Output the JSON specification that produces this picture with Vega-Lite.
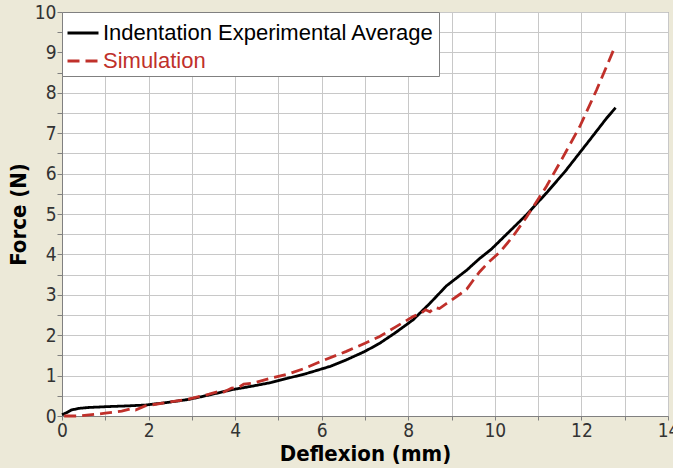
{
  "$schema": "https://vega.github.io/schema/vega-lite/v6.json",
  "width": 606,
  "height": 404,
  "autosize": {"type": "none"},
  "padding": {"left": 62, "top": 12, "right": 5, "bottom": 52},
  "background": "#ECE9D8",
  "config": {
    "view": {"fill": "white", "stroke": "#808080", "strokeWidth": 1},
    "font": "Liberation Sans"
  },
  "data": {
    "values": [
      {"series": "Indentation Experimental Average", "deflexion": 0.0, "force": 0.03},
      {"series": "Indentation Experimental Average", "deflexion": 0.1, "force": 0.08},
      {"series": "Indentation Experimental Average", "deflexion": 0.22, "force": 0.15},
      {"series": "Indentation Experimental Average", "deflexion": 0.4, "force": 0.19},
      {"series": "Indentation Experimental Average", "deflexion": 0.61, "force": 0.21},
      {"series": "Indentation Experimental Average", "deflexion": 1.0, "force": 0.23},
      {"series": "Indentation Experimental Average", "deflexion": 1.5, "force": 0.25},
      {"series": "Indentation Experimental Average", "deflexion": 1.92, "force": 0.27},
      {"series": "Indentation Experimental Average", "deflexion": 2.4, "force": 0.33},
      {"series": "Indentation Experimental Average", "deflexion": 2.92, "force": 0.41},
      {"series": "Indentation Experimental Average", "deflexion": 3.4, "force": 0.52},
      {"series": "Indentation Experimental Average", "deflexion": 3.92, "force": 0.65},
      {"series": "Indentation Experimental Average", "deflexion": 4.4, "force": 0.74},
      {"series": "Indentation Experimental Average", "deflexion": 4.84, "force": 0.83},
      {"series": "Indentation Experimental Average", "deflexion": 5.2, "force": 0.93},
      {"series": "Indentation Experimental Average", "deflexion": 5.61, "force": 1.04},
      {"series": "Indentation Experimental Average", "deflexion": 5.8, "force": 1.1},
      {"series": "Indentation Experimental Average", "deflexion": 6.2, "force": 1.23},
      {"series": "Indentation Experimental Average", "deflexion": 6.57, "force": 1.39},
      {"series": "Indentation Experimental Average", "deflexion": 7.0, "force": 1.6},
      {"series": "Indentation Experimental Average", "deflexion": 7.34, "force": 1.8},
      {"series": "Indentation Experimental Average", "deflexion": 7.7, "force": 2.06},
      {"series": "Indentation Experimental Average", "deflexion": 8.11, "force": 2.38},
      {"series": "Indentation Experimental Average", "deflexion": 8.5, "force": 2.79},
      {"series": "Indentation Experimental Average", "deflexion": 8.88, "force": 3.22},
      {"series": "Indentation Experimental Average", "deflexion": 9.35, "force": 3.61},
      {"series": "Indentation Experimental Average", "deflexion": 9.65, "force": 3.9},
      {"series": "Indentation Experimental Average", "deflexion": 9.92, "force": 4.13},
      {"series": "Indentation Experimental Average", "deflexion": 10.3, "force": 4.53},
      {"series": "Indentation Experimental Average", "deflexion": 10.73, "force": 4.98},
      {"series": "Indentation Experimental Average", "deflexion": 11.2, "force": 5.53},
      {"series": "Indentation Experimental Average", "deflexion": 11.62, "force": 6.05},
      {"series": "Indentation Experimental Average", "deflexion": 12.19, "force": 6.83},
      {"series": "Indentation Experimental Average", "deflexion": 12.58, "force": 7.37},
      {"series": "Indentation Experimental Average", "deflexion": 12.79, "force": 7.63},
      {"series": "Simulation", "deflexion": 0.05, "force": 0.0},
      {"series": "Simulation", "deflexion": 0.4, "force": 0.0},
      {"series": "Simulation", "deflexion": 0.76, "force": 0.04},
      {"series": "Simulation", "deflexion": 1.0, "force": 0.07},
      {"series": "Simulation", "deflexion": 1.38, "force": 0.12},
      {"series": "Simulation", "deflexion": 1.6, "force": 0.18},
      {"series": "Simulation", "deflexion": 1.7, "force": 0.15},
      {"series": "Simulation", "deflexion": 1.92, "force": 0.25},
      {"series": "Simulation", "deflexion": 2.4, "force": 0.33},
      {"series": "Simulation", "deflexion": 2.92, "force": 0.42},
      {"series": "Simulation", "deflexion": 3.4, "force": 0.54},
      {"series": "Simulation", "deflexion": 3.6, "force": 0.6},
      {"series": "Simulation", "deflexion": 3.7, "force": 0.57},
      {"series": "Simulation", "deflexion": 3.92, "force": 0.69},
      {"series": "Simulation", "deflexion": 4.1, "force": 0.72},
      {"series": "Simulation", "deflexion": 4.2, "force": 0.79},
      {"series": "Simulation", "deflexion": 4.4, "force": 0.81},
      {"series": "Simulation", "deflexion": 4.84, "force": 0.94},
      {"series": "Simulation", "deflexion": 5.2, "force": 1.03},
      {"series": "Simulation", "deflexion": 5.61, "force": 1.18},
      {"series": "Simulation", "deflexion": 6.0, "force": 1.36},
      {"series": "Simulation", "deflexion": 6.57, "force": 1.6},
      {"series": "Simulation", "deflexion": 7.0, "force": 1.8},
      {"series": "Simulation", "deflexion": 7.34, "force": 1.97},
      {"series": "Simulation", "deflexion": 7.7, "force": 2.2},
      {"series": "Simulation", "deflexion": 8.11, "force": 2.46},
      {"series": "Simulation", "deflexion": 8.3, "force": 2.55},
      {"series": "Simulation", "deflexion": 8.4, "force": 2.63},
      {"series": "Simulation", "deflexion": 8.5, "force": 2.58},
      {"series": "Simulation", "deflexion": 8.62, "force": 2.69},
      {"series": "Simulation", "deflexion": 8.72, "force": 2.66},
      {"series": "Simulation", "deflexion": 8.88, "force": 2.78},
      {"series": "Simulation", "deflexion": 9.0, "force": 2.87},
      {"series": "Simulation", "deflexion": 9.2, "force": 3.02},
      {"series": "Simulation", "deflexion": 9.35, "force": 3.14},
      {"series": "Simulation", "deflexion": 9.5, "force": 3.36},
      {"series": "Simulation", "deflexion": 9.65, "force": 3.57},
      {"series": "Simulation", "deflexion": 9.85, "force": 3.8},
      {"series": "Simulation", "deflexion": 10.12, "force": 4.06},
      {"series": "Simulation", "deflexion": 10.4, "force": 4.42},
      {"series": "Simulation", "deflexion": 10.73, "force": 4.92},
      {"series": "Simulation", "deflexion": 11.19, "force": 5.68},
      {"series": "Simulation", "deflexion": 11.58, "force": 6.42},
      {"series": "Simulation", "deflexion": 11.96, "force": 7.16},
      {"series": "Simulation", "deflexion": 12.35, "force": 8.07},
      {"series": "Simulation", "deflexion": 12.75, "force": 9.08}
    ]
  },
  "mark": {"type": "line", "strokeWidth": 2.8},
  "encoding": {
    "x": {
      "field": "deflexion",
      "type": "quantitative",
      "scale": {"domain": [0, 14], "nice": false, "zero": false},
      "axis": {
        "values": [0, 1, 2, 3, 4, 5, 6, 7, 8, 9, 10, 11, 12, 13, 14],
        "labelExpr": "datum.value % 2 === 0 ? format(datum.value, 'd') : ''",
        "grid": true,
        "gridColor": "#C8C8C8",
        "gridWidth": 1,
        "domainColor": "#808080",
        "tickColor": "#808080",
        "tickSize": 4,
        "labelFont": "DejaVu Sans Condensed, Liberation Sans Narrow, Liberation Sans",
        "labelFontSize": 19,
        "labelColor": "#333333",
        "labelPadding": 1,
        "labelFlush": false,
        "labelOverlap": false,
        "title": "Deflexion (mm)",
        "titleFont": "DejaVu Sans Condensed, Liberation Sans Narrow, Liberation Sans",
        "titleFontSize": 22,
        "titleFontWeight": "bold",
        "titleColor": "#000000",
        "titlePadding": 3
      }
    },
    "y": {
      "field": "force",
      "type": "quantitative",
      "scale": {"domain": [0, 10], "nice": false},
      "axis": {
        "values": [0, 0.5, 1, 1.5, 2, 2.5, 3, 3.5, 4, 4.5, 5, 5.5, 6, 6.5, 7, 7.5, 8, 8.5, 9, 9.5, 10],
        "labelExpr": "datum.value % 1 === 0 ? format(datum.value, 'd') : ''",
        "grid": true,
        "gridColor": "#C8C8C8",
        "gridWidth": 1,
        "domainColor": "#808080",
        "tickColor": "#808080",
        "tickSize": 5,
        "labelFont": "DejaVu Sans Condensed, Liberation Sans Narrow, Liberation Sans",
        "labelFontSize": 19,
        "labelColor": "#333333",
        "labelPadding": 1,
        "labelFlush": false,
        "labelOverlap": false,
        "title": "Force (N)",
        "titleFont": "DejaVu Sans Condensed, Liberation Sans Narrow, Liberation Sans",
        "titleFontSize": 22,
        "titleFontWeight": "bold",
        "titleColor": "#000000",
        "titlePadding": 4
      }
    },
    "color": {
      "field": "series",
      "type": "nominal",
      "scale": {"domain": ["Indentation Experimental Average", "Simulation"], "range": ["#000000", "#C0302A"]},
      "legend": {
        "title": null,
        "orient": "top-left",
        "offset": 0,
        "fillColor": "white",
        "strokeColor": "#808080",
        "padding": 4,
        "symbolType": "stroke",
        "symbolSize": 961,
        "symbolStrokeWidth": 3,
        "labelFont": "Liberation Sans",
        "labelFontSize": 22,
        "labelLimit": 0,
        "labelOffset": 3,
        "rowPadding": 0,
        "labelColor": {"expr": "datum.value === 'Simulation' ? '#C0302A' : '#000000'"}
      }
    },
    "strokeDash": {
      "field": "series",
      "type": "nominal",
      "scale": {"domain": ["Indentation Experimental Average", "Simulation"], "range": [[1, 0], [12, 6]]},
      "legend": {
        "title": null,
        "orient": "top-left",
        "offset": 0,
        "fillColor": "white",
        "strokeColor": "#808080",
        "padding": 4,
        "symbolType": "stroke",
        "symbolSize": 961,
        "symbolStrokeWidth": 3,
        "labelFont": "Liberation Sans",
        "labelFontSize": 22,
        "labelLimit": 0,
        "labelOffset": 3,
        "rowPadding": 0,
        "labelColor": {"expr": "datum.value === 'Simulation' ? '#C0302A' : '#000000'"}
      }
    }
  }
}
